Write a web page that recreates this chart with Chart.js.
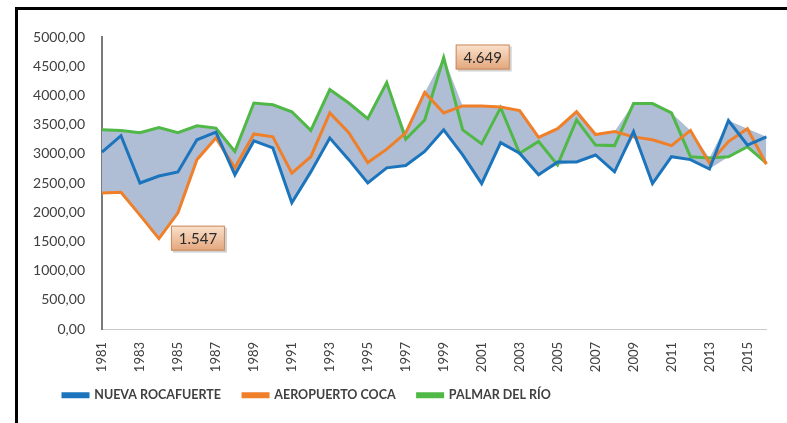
<!DOCTYPE html>
<html>
<head>
<meta charset="utf-8">
<script src="https://cdn.jsdelivr.net/npm/chart.js@4.4.1/dist/chart.umd.min.js"></script>
<style>
  html, body { margin: 0; padding: 0; background: #fff; }
  #wrap { width: 787px; height: 423px; position: relative; }
</style>
</head>
<body>
<div id="wrap"><canvas id="rainChart" width="787" height="423"></canvas></div>
<script>
// Annual values per station, 1981 - 2016
const years = [];
for (let y = 1981; y <= 2016; y++) years.push(String(y));

const nuevaRocafuerte = [3030, 3310, 2500, 2620, 2690, 3240, 3370, 2640, 3220, 3100,
  2160, 2690, 3270, 2900, 2500, 2760, 2800, 3040, 3410, 2980,
  2490, 3190, 3010, 2640, 2860, 2860, 2980, 2690, 3380, 2490,
  2950, 2900, 2740, 3570, 3150, 3290];
const aeropuertoCoca = [2330, 2340, 1950, 1547, 1990, 2900, 3270, 2760, 3340, 3290,
  2670, 2950, 3700, 3360, 2850, 3080, 3360, 4050, 3700, 3820,
  3820, 3800, 3740, 3280, 3430, 3720, 3330, 3380, 3290, 3240,
  3140, 3400, 2840, 3210, 3430, 2820];
const palmarDelRio = [3410, 3400, 3360, 3450, 3360, 3480, 3440, 3040, 3870, 3840,
  3720, 3400, 4100, 3870, 3600, 4220, 3250, 3580, 4649, 3410,
  3170, 3790, 3010, 3210, 2810, 3580, 3150, 3140, 3860, 3860,
  3700, 2950, 2930, 2950, 3120, 2840];

const seriesNames = ['NUEVA ROCAFUERTE', 'AEROPUERTO COCA', 'PALMAR DEL RÍO'];
const seriesColors = ['#1c75bc', '#f07f2a', '#50b846'];
const yMin = 0, yMax = 5000, yStep = 500;

// labelled extremes: [series index, year index]
const callouts = [[1, 3], [2, 18]];

const allSeries = [nuevaRocafuerte, aeropuertoCoca, palmarDelRio];
const upper = years.map((_, i) => Math.max(...allSeries.map(s => s[i])));
const lower = years.map((_, i) => Math.min(...allSeries.map(s => s[i])));

// white page + black frame like the original picture
const framePlugin = {
  id: 'frame',
  beforeDraw(chart) {
    const ctx = chart.ctx;
    ctx.save();
    ctx.fillStyle = '#fff';
    ctx.fillRect(0, 0, chart.width, chart.height);
    ctx.fillStyle = '#000';
    ctx.fillRect(15, 7, chart.width - 15, 3);
    ctx.fillRect(15, 7, 3, chart.height - 7);
    ctx.restore();
  }
};

// move the legend to the left and down
const legendPlace = {
  id: 'legendPlace',
  afterLayout(chart) {
    const lg = chart.legend;
    const pad = lg.options.labels.padding;
    const dx = 63 - (lg.left + pad);
    lg.left += dx;
    lg.right += dx;
    lg.top = 396 - pad - 7;
  }
};

// peach boxes with the min / max values
const calloutPlugin = {
  id: 'callouts',
  afterDatasetsDraw(chart) {
    const ctx = chart.ctx;
    const xs = chart.scales.x, ys = chart.scales.y;
    callouts.forEach(([s, i]) => {
      const v = allSeries[s][i];
      const px = xs.getPixelForValue(i);
      const py = ys.getPixelForValue(v);
      const bx = px + 12, by = py - 13, bw = 54, bh = 25;
      ctx.save();
      ctx.fillStyle = 'rgba(0,0,0,0.18)';
      ctx.fillRect(bx + 2, by + 2, bw, bh);
      const g = ctx.createLinearGradient(0, by, 0, by + bh);
      g.addColorStop(0, '#fbe2cd');
      g.addColorStop(1, '#e3a67c');
      ctx.fillStyle = g;
      ctx.fillRect(bx, by, bw, bh);
      ctx.strokeStyle = '#c98c62';
      ctx.lineWidth = 1;
      ctx.strokeRect(bx + 0.5, by + 0.5, bw - 1, bh - 1);
      ctx.fillStyle = '#2a2a2a';
      ctx.font = '15px Lato, sans-serif';
      ctx.textAlign = 'center';
      ctx.textBaseline = 'middle';
      ctx.fillText(v.toLocaleString('de-DE'), bx + bw / 2, by + bh / 2 + 1);
      ctx.restore();
    });
  }
};

function lineSet(k, data) {
  return {
    label: seriesNames[k],
    data: data,
    borderColor: seriesColors[k],
    backgroundColor: seriesColors[k],
    borderWidth: 3,
    pointRadius: 0,
    tension: 0,
    fill: false
  };
}

new Chart(document.getElementById('rainChart'), {
  type: 'line',
  data: {
    labels: years,
    datasets: [
      lineSet(0, nuevaRocafuerte),
      lineSet(1, aeropuertoCoca),
      lineSet(2, palmarDelRio),
      { label: 'max', data: upper, borderWidth: 0, pointRadius: 0,
        backgroundColor: '#afbed4', fill: '+1' },
      { label: 'min', data: lower, borderWidth: 0, pointRadius: 0,
        backgroundColor: '#afbed4', fill: false }
    ]
  },
  options: {
    responsive: false,
    animation: false,
    devicePixelRatio: 1,
    layout: { padding: { top: 37, right: 9, left: 0, bottom: 0 } },
    plugins: {
      legend: {
        position: 'bottom',
        align: 'start',
        labels: {
          filter: item => item.datasetIndex < 3,
          boxWidth: 25,
          boxHeight: 3,
          padding: 22,
          color: '#404040',
          font: { family: 'Lato, sans-serif', size: 12.5, weight: 'bold' }
        }
      },
      tooltip: { enabled: false }
    },
    scales: {
      x: {
        offset: false,
        grid: { display: false },
        border: { display: true, color: '#c8c8c8', width: 1 },
        ticks: {
          autoSkip: false,
          maxRotation: 90,
          minRotation: 90,
          padding: 5,
          color: '#404040',
          font: { family: 'Lato, sans-serif', size: 13 },
          callback: function (val, idx) { return idx % 2 === 0 ? this.getLabelForValue(val) : ''; }
        },
        afterFit: scale => { scale.height = 49.5; }
      },
      y: {
        min: yMin,
        max: yMax,
        grid: { display: false, drawTicks: false },
        border: { display: true, color: '#7a7a7a', width: 2 },
        ticks: {
          stepSize: yStep,
          padding: 17,
          color: '#404040',
          font: { family: 'Lato, sans-serif', size: 14 },
          callback: v => v.toFixed(2).replace('.', ',')
        },
        afterFit: scale => { scale.width = 102; }
      }
    }
  },
  plugins: [framePlugin, legendPlace, calloutPlugin]
});
</script>
</body>
</html>
